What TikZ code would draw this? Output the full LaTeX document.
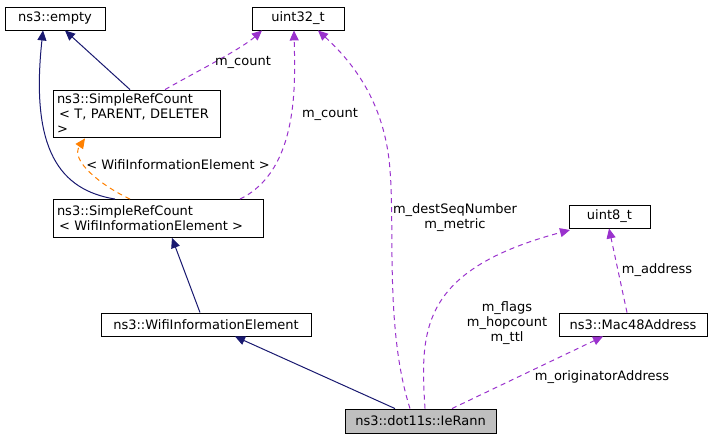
\documentclass[tikz,border=0pt]{standalone}
\usepackage{fontspec}
\setmainfont{DejaVu Sans}
\usepackage{tikz}
\usetikzlibrary{arrows.meta}
\usetikzlibrary{positioning}

\definecolor{inhcol}{RGB}{25,25,112}
\definecolor{usecol}{RGB}{154,50,205}
\tikzset{
  box/.style={draw,fill=white,inner sep=4pt,font=\fontsize{13}{15}\selectfont,align=left,line width=0.9pt},
  inh/.style={draw=inhcol,line width=1pt,-{Triangle[length=10pt,width=9pt]}},
  use/.style={draw=usecol,line width=1pt,dash pattern=on 5pt off 4pt,-{Triangle[length=10pt,width=9pt]}},
  tpl/.style={draw=orange,line width=1pt,dash pattern=on 5pt off 4pt,-{Triangle[length=10pt,width=9pt]}},
  lbl/.style={font=\fontsize{13}{15}\selectfont,align=center}
}

\begin{document}
\begin{tikzpicture}[x=1pt,y=-1pt]
		\useasboundingbox (0,0) rectangle (711,441);
		% classes
		\node[box,minimum width=100pt,minimum height=23pt] (empty) at (55,18.5) {ns3::empty};
		\node[box,minimum width=92pt,minimum height=23pt] (u32) at (298,18.5) {uint32\_t};
		\node[box,text width=159pt,minimum height=38pt] (src1) at (136.5,114) {ns3::SimpleRefCount\\\,< T, PARENT, DELETER >};
		\node[box,text width=202pt,minimum height=38pt] (src2) at (158,218.5) {ns3::SimpleRefCount\\\,< WifiInformationElement >};
		\node[box,minimum width=210pt,minimum height=23pt] (wie) at (206,324.5) {ns3::WifiInformationElement};
		\node[box,minimum width=81pt,minimum height=23pt] (u8) at (609.5,216.5) {uint8\_t};
		\node[box,minimum width=148pt,minimum height=23pt] (mac) at (633,324.5) {ns3::Mac48Address};
		\node[box,fill=black!25,minimum width=151pt,minimum height=24pt] (rann) at (420.5,421) {ns3::dot11s::IeRann};
		% inheritance
		\draw[inh] (src1.north -| 130,0) -- (empty.south -| 65,0);
		\draw[inh] (src2.north -| 115,0) .. controls (60,190) and (30,150) .. (empty.south -| 43,0);
		\draw[inh] (wie.north -| 200,0) -- (src2.south -| 172,0);
		\draw[inh] (rann.north -| 395,0) -- (wie.south -| 235,0);
		% template
		\draw[tpl] (src2.north -| 130,0) .. controls (100,185) and (70,160) .. (src1.south -| 85,0);
		\node[lbl] (tlbl) at (178,165) {< WifiInformationElement >};
		% members
		\draw[use] (src1.north -| 165,0) .. controls (190,75) and (240,50) .. (u32.south -| 262,0);
		\node[lbl] (c1) at (243,62) {m\_count};
		\draw[use] (src2.north -| 240,0) .. controls (300,170) and (295,80) .. (u32.south -| 294,0);
		\node[lbl] (c2) at (330,114) {m\_count};
		\draw[use] (rann.north -| 410,0) .. controls (385,330) and (395,230) .. (390,170) .. controls (385,100) and (350,60) .. (u32.south -| 318,0);
		\node[lbl] (c3) at (455,218) {m\_destSeqNumber\\m\_metric};
		\draw[use] (rann.north -| 425,0) .. controls (420,330) and (420,270) .. (570,230);
		\node[lbl] (c4) at (507,323) {m\_flags\\m\_hopcount\\m\_ttl};
		\draw[use] (rann.north -| 452,0) -- (mac.south -| 603,0);
		\node[lbl] (c5) at (602,377) {m\_originatorAddress};
		\draw[use] (mac.north -| 627,0) -- (u8.south -| 609,0);
		\node[lbl] (c6) at (657,270) {m\_address};
\end{tikzpicture}
\end{document}
